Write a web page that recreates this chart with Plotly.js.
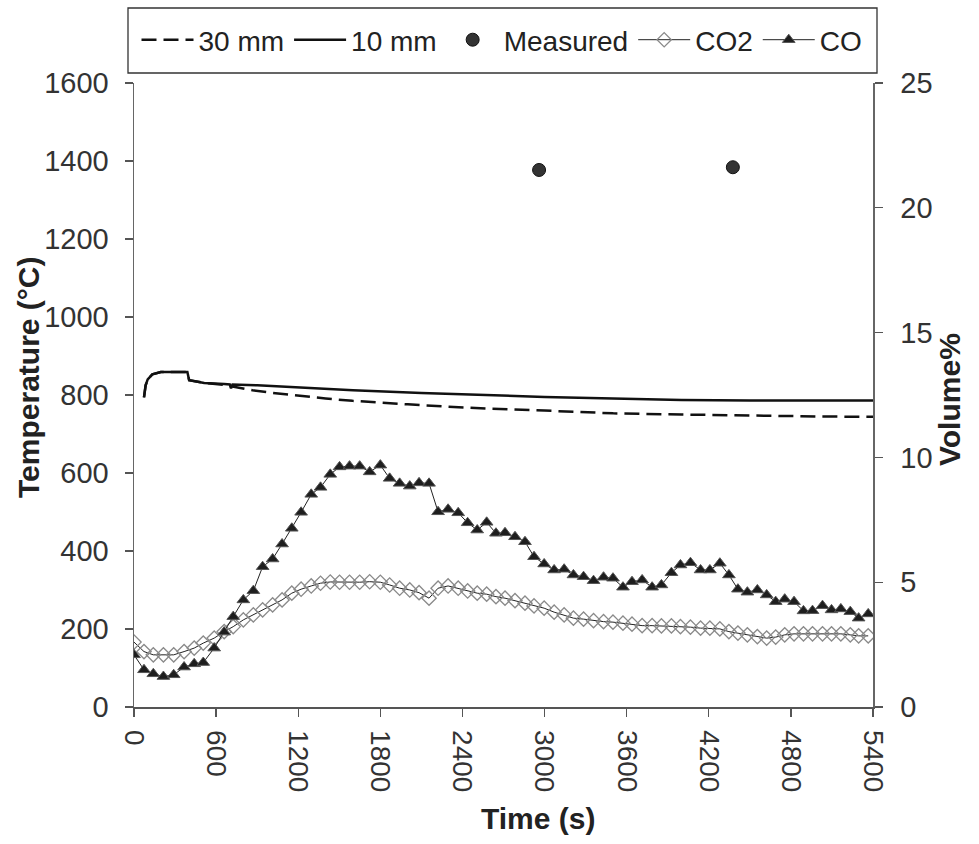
<!DOCTYPE html>
<html>
<head>
<meta charset="utf-8">
<script src="https://cdn.plot.ly/plotly-3.0.1.min.js"></script>
<style>
  html, body { margin: 0; padding: 0; background: #ffffff; }
  #chart { width: 979px; height: 844px; }
</style>
</head>
<body>
<div id="chart"></div>
<script>
// Thermocouple temperatures (°C) at two depths
const t30mm = [73, 85, 100, 134, 196, 300, 390, 403, 513, 659, 750, 866, 1000, 1200, 1400, 1597, 1800, 2000, 2300, 2577, 3000, 3502, 4000, 4500, 5000, 5400];
const temp30mm = [794, 825, 840, 853, 859, 860, 859, 838, 831, 826, 820, 812, 806, 798, 791, 785, 780, 776, 770, 765, 760, 753, 750, 747, 745, 744];

const t10mm = [73, 85, 100, 134, 196, 300, 390, 403, 513, 659, 700, 709, 720, 901, 1110, 1400, 1600, 2100, 2674, 3000, 3500, 4000, 4500, 5000, 5400];
const temp10mm = [794, 825, 840, 853, 859, 860, 859, 838, 831, 828, 827, 817, 827, 825, 821, 815, 812, 805, 798, 795, 791, 787, 786, 786, 786];

// Spot measurements (°C)
const tMeasured = [2960, 4376];
const tempMeasured = [1377, 1384];

// Flue gas sampling times (s) and concentrations (volume %)
const tGas = [
  0, 73, 141, 215, 290, 366, 440, 506, 586, 659,
  725, 799, 872, 940, 1013, 1082, 1153, 1221, 1295, 1363,
  1434, 1502, 1575, 1649, 1722, 1800, 1868, 1941, 2015, 2083,
  2156, 2222, 2295, 2369, 2438, 2508, 2577, 2645, 2711, 2784,
  2857, 2923, 2997, 3070, 3143, 3211, 3285, 3358, 3431, 3500,
  3573, 3639, 3713, 3786, 3854, 3927, 3993, 4066, 4140, 4208,
  4281, 4347, 4413, 4482, 4555, 4623, 4689, 4755, 4823, 4892,
  4958, 5031, 5097, 5165, 5234, 5295, 5365
];
const co2 = [
  2.60, 2.22, 2.09, 2.09, 2.09, 2.22, 2.36, 2.56, 2.76, 3.02,
  3.22, 3.49, 3.69, 3.89, 4.09, 4.29, 4.56, 4.72, 4.85, 4.96,
  5.01, 5.00, 5.00, 5.00, 5.02, 5.00, 4.89, 4.76, 4.69, 4.58,
  4.36, 4.76, 4.85, 4.76, 4.65, 4.56, 4.52, 4.42, 4.36, 4.26,
  4.16, 4.05, 3.96, 3.80, 3.69, 3.56, 3.52, 3.46, 3.42, 3.40,
  3.36, 3.32, 3.26, 3.26, 3.25, 3.25, 3.22, 3.20, 3.16, 3.16,
  3.13, 3.02, 2.96, 2.89, 2.82, 2.76, 2.80, 2.89, 2.93, 2.93,
  2.93, 2.93, 2.93, 2.93, 2.89, 2.85, 2.85
];
const co = [
  2.09, 1.49, 1.33, 1.22, 1.29, 1.60, 1.73, 1.78, 2.36, 3.00,
  3.62, 4.29, 4.66, 5.62, 5.93, 6.53, 7.16, 7.80, 8.52, 8.80,
  9.32, 9.62, 9.65, 9.65, 9.42, 9.69, 9.16, 8.96, 8.85, 8.98,
  8.96, 7.82, 7.92, 7.78, 7.38, 7.09, 7.40, 6.96, 6.98, 6.82,
  6.62, 6.02, 5.73, 5.49, 5.52, 5.29, 5.22, 5.06, 5.20, 5.16,
  4.80, 5.02, 5.09, 4.80, 4.89, 5.38, 5.69, 5.78, 5.49, 5.49,
  5.76, 5.29, 4.72, 4.60, 4.69, 4.49, 4.22, 4.32, 4.22, 3.85,
  3.86, 4.06, 3.89, 3.93, 3.82, 3.56, 3.73
];

// Axis ticks
const timeTicks = [0, 600, 1200, 1800, 2400, 3000, 3600, 4200, 4800, 5400];
const tempTicks = [0, 200, 400, 600, 800, 1000, 1200, 1400, 1600];
const volTicks = [0, 5, 10, 15, 20, 25];

const FONT = 'Arial, "Liberation Sans", sans-serif';

// Plot area in pixels (used to place the legend frame and axis titles)
const W = 979, H = 844;
const M = { l: 134, r: 106, t: 83, b: 137 };
const pw = W - M.l - M.r, ph = H - M.t - M.b;
const px2x = (px) => (px - M.l) / pw;
const py2y = (py) => (H - M.b - py) / ph;

const traces = [
  {
    name: '30 mm', x: t30mm, y: temp30mm, type: 'scatter', mode: 'lines',
    line: { color: '#111111', width: 2.5, dash: '15px,7px' }
  },
  {
    name: '10 mm', x: t10mm, y: temp10mm, type: 'scatter', mode: 'lines',
    line: { color: '#111111', width: 2.5 }
  },
  {
    name: 'Measured', x: tMeasured, y: tempMeasured, type: 'scatter', mode: 'markers',
    marker: { symbol: 'circle', size: 13, color: '#333333', line: { color: '#111111', width: 1 } }
  },
  {
    name: 'CO2', x: tGas, y: co2, yaxis: 'y2', type: 'scatter', mode: 'lines+markers',
    line: { color: '#222222', width: 1 },
    marker: { symbol: 'diamond-open', size: 11, color: '#8a8a8a', line: { color: '#8a8a8a', width: 1.3 } }
  },
  {
    name: 'CO', x: tGas, y: co, yaxis: 'y2', type: 'scatter', mode: 'lines+markers',
    line: { color: '#222222', width: 1 },
    marker: { symbol: 'triangle-up', size: 11, color: '#1e1e1e', line: { color: '#555555', width: 1 } }
  }
];

const titleFont = { family: FONT, size: 30, color: '#222222' };

const layout = {
  width: W, height: H,
  margin: M,
  paper_bgcolor: '#ffffff', plot_bgcolor: '#ffffff',
  font: { family: FONT, color: '#333333', size: 28 },
  showlegend: true,
  legend: {
    orientation: 'h', x: px2x(502), xanchor: 'center', y: py2y(40), yanchor: 'middle',
    borderwidth: 0, bgcolor: 'rgba(0,0,0,0)',
    font: { family: FONT, size: 28, color: '#222222' },
    itemwidth: 52
  },
  // Legend frame
  shapes: [{
    type: 'rect', xref: 'paper', yref: 'paper',
    x0: px2x(128), x1: px2x(877), y0: py2y(73), y1: py2y(8),
    line: { color: '#333333', width: 1.3 }, fillcolor: 'rgba(0,0,0,0)'
  }],
  annotations: [
    {
      text: '<b>Time (s)</b>', xref: 'paper', yref: 'paper', x: px2x(538), y: py2y(818),
      xanchor: 'center', yanchor: 'middle', showarrow: false, font: titleFont
    },
    {
      text: '<b>Temperature (°C)</b>', xref: 'paper', yref: 'paper', x: px2x(28), y: py2y(378),
      xanchor: 'center', yanchor: 'middle', textangle: -90, showarrow: false, font: titleFont
    },
    {
      text: '<b>Volume%</b>', xref: 'paper', yref: 'paper', x: px2x(949), y: py2y(400),
      xanchor: 'center', yanchor: 'middle', textangle: -90, showarrow: false, font: titleFont
    }
  ],
  xaxis: {
    range: [0, 5400], tickvals: timeTicks, ticktext: timeTicks.map(String),
    tickangle: 90, ticks: 'outside', ticklen: 8, tickcolor: '#555555', tickwidth: 1.3,
    ticklabelstandoff: 8,
    showline: true, linecolor: '#555555', linewidth: 1.5, showgrid: false, zeroline: false,
    tickfont: { size: 28, color: '#333333' }
  },
  yaxis: {
    range: [0, 1600], tickvals: tempTicks, ticktext: tempTicks.map(String),
    ticks: 'outside', ticklen: 8, tickcolor: '#555555', tickwidth: 1.3,
    ticklabelstandoff: 10,
    showline: true, linecolor: '#666666', linewidth: 1.5, showgrid: false, zeroline: false,
    tickfont: { size: 29, color: '#333333' }
  },
  yaxis2: {
    range: [0, 25], tickvals: volTicks, ticktext: volTicks.map(String),
    overlaying: 'y', side: 'right',
    ticks: 'outside', ticklen: 8, tickcolor: '#555555', tickwidth: 1.3,
    ticklabelstandoff: 12,
    showline: true, linecolor: '#666666', linewidth: 1.5, showgrid: false, zeroline: false,
    tickfont: { size: 29, color: '#333333' }
  }
};

Plotly.newPlot('chart', traces, layout, { staticPlot: true, displayModeBar: false });
</script>
</body>
</html>
